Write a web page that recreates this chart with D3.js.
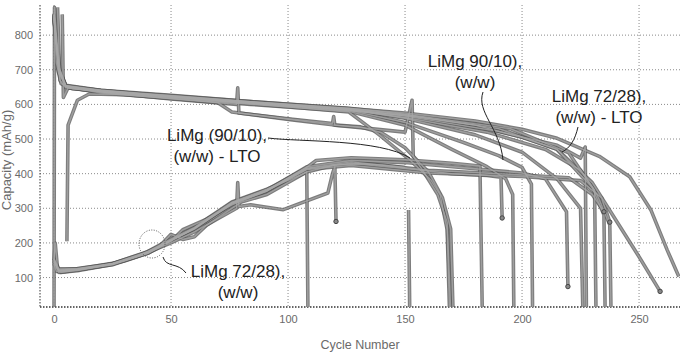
<!DOCTYPE html>
<html><head><meta charset="utf-8">
<script src="https://cdn.jsdelivr.net/npm/d3@7"></script>
<style>
body{margin:0;background:#fff;}
svg{display:block;font-family:"Liberation Sans",Arial,sans-serif;}
</style></head>
<body><svg id="c" width="697" height="359"></svg>
<script>
// ---- data ----
const xTicks = [0, 50, 100, 150, 200, 250];
const yTicks = [100, 200, 300, 400, 500, 600, 700, 800];
const xTitle = "Cycle Number";
const yTitle = "Capacity (mAh/g)";

// high-capacity cells (cycle, mAh/g)
const hi1 = [[0,5],[0.2,880],[1,800],[2.5,700],[5,655],[8,645],[20,638],[50,625],[84,608],[126,588],[150,575],[180,552],[200,528],[215,502],[233,450],[246,391],[255,296],[262,180],[267,103]];
const hi2 = [[0,860],[1,720],[3,660],[6,650],[20,641],[50,622],[84,604],[126,582],[150,568],[180,540],[200,505],[215,470],[230,374],[240,267],[250,160],[259,60]];
const hi3 = [[1.5,880],[2.5,670],[5,648],[20,637],[50,620],[84,602],[126,578],[139,512],[152,440],[161,382],[165,339],[168,238],[169,5]];
const hi4 = [[5.5,205],[6,540],[10,612],[15,630],[30,628],[50,618],[70,605],[76,578],[101,556],[119,541],[131,535],[140,518],[150,475],[160,405],[166,330],[169.5,240],[170.5,5]];
const hi5 = [[3.5,860],[4,620],[6,648],[20,636],[50,616],[78,600],[78.5,648],[79,575],[101,558],[119,545],[119.5,565],[120,540],[131,533],[150,520],[153,612],[153.5,450],[158,405],[164,340],[168,260],[169.5,5]];
const hi6 = [[0,855],[2,705],[5,652],[20,633],[50,617],[84,600],[126,580],[150,540],[170,470],[185,420],[193,385],[196,340],[196.5,5]];
const hi7 = [[0,845],[2,710],[5,651],[20,636],[50,621],[84,603],[126,583],[150,548],[175,490],[190,452],[200,418],[204,370],[204.5,5]];
const hi8 = [[0,850],[2,700],[5,650],[20,639],[50,623],[84,606],[126,586],[150,560],[180,512],[200,462],[215,385],[225,300],[226,5]];
const hi9 = [[0,858],[2,690],[5,653],[20,640],[50,624],[84,607],[126,587],[150,566],[190,522],[215,482],[225,445],[227,477],[227.5,5]];
const hi10 = [[0,852],[2,700],[5,654],[20,639],[50,623],[84,605],[126,584],[150,562],[185,520],[210,470],[225,410],[231,353],[231.6,5]];
const hi11 = [[0,848],[2,705],[5,652],[20,638],[50,622],[84,604],[126,585],[150,570],[190,530],[215,470],[230,360],[235,281],[235.5,5]];
const hi12 = [[0,862],[2,695],[5,655],[20,641],[50,626],[84,608],[126,589],[150,572],[195,530],[220,460],[232,340],[237.5,252],[238,5]];

// low-start cells (LiMg 72/28 w/w)
const lo1 = [[0,150],[0.5,200],[1.5,125],[3,115],[10,122],[20,133],[30,148],[40,170],[50,205],[55,238],[65,268],[76,310],[91,350],[108,418],[112,438],[127,446],[150,440],[170,430],[182,422],[183,5]];
const lo2 = [[0,140],[1,118],[5,118],[15,128],[25,140],[35,160],[45,190],[50,225],[55,210],[60,218],[65,250],[76,300],[80,318],[91,340],[108,405],[120,425],[130,428],[150,415],[170,400],[185,395],[191,390],[191.5,272]];
const lo3 = [[0,145],[2,115],[10,120],[25,138],[40,172],[50,200],[60,232],[70,270],[78,300],[78.5,374],[79,305],[84,310],[98,296],[117,344],[119,400],[120,420],[120.5,262]];
const lo4 = [[0,155],[2,125],[10,126],[25,140],[40,175],[50,212],[60,245],[76,318],[91,355],[105,395],[108,405],[108.5,5]];
const lo5 = [[0,152],[2,122],[10,124],[25,139],[40,172],[50,208],[60,240],[76,314],[91,352],[108,420],[127,438],[150,432],[180,414],[200,402],[210,385],[219,290],[219.6,74]];
const lo6 = [[0,148],[2,120],[10,123],[25,137],[40,171],[50,206],[60,242],[76,312],[91,350],[108,414],[127,430],[140,425],[150,418],[151,null],[151.5,295],[152,5]];
const lo7 = [[0,150],[2,121],[10,125],[25,141],[40,173],[50,209],[60,243],[76,316],[91,354],[108,416],[127,434],[160,410],[200,396],[220,388],[230,340],[235,290]];
const lo8 = [[0,146],[2,119],[10,122],[25,139],[40,170],[50,207],[60,241],[76,315],[91,351],[108,412],[127,424],[160,402],[200,392],[225,380],[234,330],[237.5,260]];

const series = [hi1,hi2,hi3,hi4,hi5,hi6,hi7,hi8,hi9,hi10,hi11,hi12,lo1,lo2,lo3,lo4,lo5,lo6,lo7,lo8];

const labels = [
  {lines:["LiMg (90/10),","(w/w) - LTO"], cx:217, y:141},
  {lines:["LiMg 90/10),","(w/w)"], cx:475, y:67},
  {lines:["LiMg 72/28),","(w/w) - LTO"], cx:599, y:102},
  {lines:["LiMg 72/28),","(w/w)"], cx:238, y:277}
];

// ---- drawing ----
const svg = d3.select("#c");
const L = 40, R = 680, T = 5, B = 307;
const x = d3.scaleLinear().domain([-6, 267.5]).range([L, R]);
const y = d3.scaleLinear().domain([15, 887]).range([B, T]);

svg.append("defs").append("clipPath").attr("id","clip")
  .append("rect").attr("x",L).attr("y",T).attr("width",R-L).attr("height",B-T);

// grid
svg.append("g").selectAll("line").data(xTicks).join("line")
  .attr("x1",d=>x(d)).attr("x2",d=>x(d)).attr("y1",T).attr("y2",B)
  .attr("stroke","#8a8a8a").attr("stroke-dasharray","1,2");
svg.append("g").selectAll("line").data(yTicks).join("line")
  .attr("x1",L).attr("x2",R).attr("y1",d=>y(d)).attr("y2",d=>y(d))
  .attr("stroke","#8a8a8a").attr("stroke-dasharray","1,2");

// axes
const xAxis = d3.axisBottom(x).tickValues(xTicks).tickSize(0).tickPadding(8);
const yAxis = d3.axisLeft(y).tickValues(yTicks).tickSize(0).tickPadding(5);
const gx = svg.append("g").attr("transform",`translate(0,${B})`).call(xAxis);
const gy = svg.append("g").attr("transform",`translate(${L},0)`).call(yAxis);
[gx,gy].forEach(g=>{
  g.select(".domain").remove();
  g.selectAll("text").attr("fill","#6a6a6a").style("font-size","11px").style("font-family","'Liberation Sans',Arial,sans-serif");
});
gy.selectAll("text").attr("dx","-2");
svg.append("line").attr("x1",L).attr("x2",L).attr("y1",T).attr("y2",B)
  .attr("stroke","#333").attr("stroke-dasharray","1.5,1.5");
svg.append("line").attr("x1",L).attr("x2",R).attr("y1",B).attr("y2",B)
  .attr("stroke","#333").attr("stroke-dasharray","1.5,1.5").attr("stroke-width",1.3);

// titles
svg.append("text").attr("x",360).attr("y",349).attr("text-anchor","middle")
  .attr("fill","#6a6a6a").style("font-size","12.5px").text(xTitle);
svg.append("text").attr("transform","translate(11,160) rotate(-90)").attr("text-anchor","middle")
  .attr("fill","#6a6a6a").style("font-size","13px").text(yTitle);

// data lines
const line = d3.line().defined(d=>d[1]!=null).x(d=>x(d[0])).y(d=>y(d[1]));
const gl = svg.append("g").attr("clip-path","url(#clip)");
gl.selectAll("path.o").data(series).join("path").attr("class","o")
  .attr("d",line).attr("fill","none").attr("stroke","#5c5c5c")
  .attr("stroke-width",3.6).attr("stroke-linejoin","round").attr("opacity",0.8);
gl.selectAll("path.i").data(series).join("path").attr("class","i")
  .attr("d",line).attr("fill","none").attr("stroke","#a8a8a8")
  .attr("stroke-width",1.4).attr("stroke-linejoin","round").attr("opacity",0.8);
// end markers for cells that stopped above zero
gl.selectAll("circle").data(series.filter(s=>s[s.length-1][1]>50 && s[s.length-1][0]<265)).join("circle")
  .attr("cx",s=>x(s[s.length-1][0])).attr("cy",s=>y(s[s.length-1][1])).attr("r",2.2)
  .attr("fill","#888").attr("stroke","#444");

// annotations
labels.forEach(lb=>{
  const t = svg.append("text").attr("text-anchor","middle").attr("fill","#222")
    .style("font-size","17px");
  lb.lines.forEach((s,i)=>t.append("tspan").attr("x",lb.cx).attr("y",lb.y+i*21).text(s));
});
const leaders = [
  "M268,138 C300,142 380,139 410,158",
  "M483,92 C476,112 500,128 503,160",
  "M578,127 C575,140 570,148 562,152",
  "M163,257 C166,268 178,262 186,273"
];
svg.append("g").selectAll("path").data(leaders).join("path")
  .attr("d",d=>d).attr("fill","none").attr("stroke","#222").attr("stroke-width",1);
svg.append("ellipse").attr("cx",152).attr("cy",244).attr("rx",13).attr("ry",14)
  .attr("fill","none").attr("stroke","#555").attr("stroke-dasharray","1,1.5");
</script></body></html>
